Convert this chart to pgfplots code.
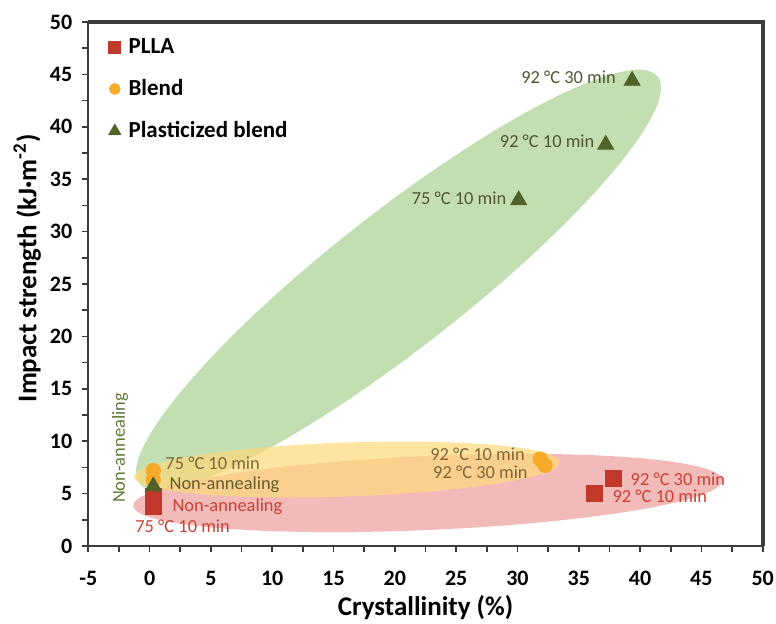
\documentclass[border=0pt]{standalone}
\usepackage{fontspec}
\setmainfont{Carlito}
\usepackage{pgfplots}
\pgfplotsset{compat=1.18}
\definecolor{axisgray}{RGB}{60,60,60}
\definecolor{pllared}{RGB}{192,57,43}
\definecolor{blendor}{RGB}{245,170,40}
\definecolor{plastgr}{RGB}{79,98,40}
\definecolor{ellgreen}{RGB}{172,211,148}
\definecolor{ellorange}{RGB}{252,217,124}
\definecolor{ellred}{RGB}{239,159,159}
\definecolor{lblgreen}{RGB}{80,86,48}
\definecolor{lblbrown}{RGB}{128,104,52}
\definecolor{lblred}{RGB}{200,65,52}
\definecolor{lblvert}{RGB}{95,120,55}
\definecolor{lblmix}{RGB}{105,92,44}
\newcommand{\annfont}{\fontsize{9.2}{11}\selectfont}
\begin{document}
\begin{tikzpicture}
\useasboundingbox (-44.15pt,-38.5pt) rectangle (343.85pt,273pt);
\begin{axis}[
  at={(0,0)}, anchor=south west,
  scale only axis, width=337.2pt, height=262pt,
  xmin=-5, xmax=50, ymin=0, ymax=50,
  axis lines=box,
  clip=false,
  xtick={-5,0,...,50}, ytick={0,5,...,50},
  minor x tick num=1, minor y tick num=1,
  xtick pos=bottom, ytick pos=left,
  tick align=outside,
  major tick length=3pt, minor tick length=3pt,
  axis line style={axisgray, line width=1pt},
  every tick/.style={axisgray, line width=0.8pt},
  tick label style={font=\fontsize{11}{13}\selectfont\bfseries},
  xticklabel style={yshift=-6pt},
  yticklabel style={xshift=-1.5pt},
  /pgf/number format/assume math mode=true,
  xlabel={Crystallinity (\%)},
  ylabel={Impact strength (kJ·m\textsuperscript{-2})},
  xlabel style={font=\fontsize{13.5}{16}\selectfont\bfseries, at={(axis description cs:0.5,0)}, anchor=center, yshift=-31pt},
  ylabel style={font=\fontsize{13.5}{16}\selectfont\bfseries, at={(axis description cs:0,0.53)}, anchor=center, yshift=30.5pt},
  legend style={at={(0.0255,0.977)}, anchor=north west, draw=none, fill=none, inner sep=0pt, row sep=7.5pt, font=\fontsize{11.5}{13}\selectfont\bfseries},
  legend cell align=left,
  legend image code/.code={\draw[mark repeat=2,mark phase=2,#1,mark options={scale=0.75}] plot coordinates {(0cm,0cm)(0.15cm,0cm)(0.3cm,0cm)}; \path (0pt,0pt) (8.95pt,0pt);},
]
% ellipses
\fill[ellgreen, opacity=0.72, rotate around={38.1:(axis cs:20.3,25.4)}] (axis cs:20.3,25.4) ellipse [x radius=164.7pt, y radius=33.8pt];
\fill[ellred, opacity=0.72, rotate around={2.5:(axis cs:22.7,5.06)}] (axis cs:22.7,5.06) ellipse [x radius=147.5pt, y radius=18.5pt];
\fill[ellorange, opacity=0.72, rotate around={2:(axis cs:16.1,7.3)}] (axis cs:16.1,7.3) ellipse [x radius=106.5pt, y radius=13.5pt];

\addplot[only marks, mark=square*, mark size=4pt, draw=pllared, fill=pllared] coordinates {(0.3,4.7) (0.3,3.8) (36.25,5.03) (37.8,6.46)};
\addlegendentry{PLLA}
\addplot[only marks, mark=*, mark size=3.6pt, draw=blendor, fill=blendor] coordinates {(0.3,6.3) (0.3,7.2) (31.85,8.3) (32.25,7.7)};
\addlegendentry{Blend}
\addplot[only marks, mark=triangle*, mark size=4.6pt, draw=plastgr, fill=plastgr] coordinates {(0.3,5.7) (30.1,33.0) (37.2,38.3) (39.35,44.4)};
\addlegendentry{Plasticized blend}

% labels plasticized
\node[lblgreen, anchor=east, inner sep=0pt, font=\annfont, xshift=-8pt, yshift=1.5pt] at (axis cs:39.35,44.4) {92 °C 30 min};
\node[lblgreen, anchor=east, inner sep=0pt, font=\annfont, xshift=-5.5pt, yshift=1.5pt] at (axis cs:37.2,38.3) {92 °C 10 min};
\node[lblgreen, anchor=east, inner sep=0pt, font=\annfont, xshift=-6pt, yshift=1pt] at (axis cs:30.1,33.0) {75 °C 10 min};
% labels blend
\node[lblbrown, anchor=east, inner sep=0pt, font=\annfont, xshift=-7.5pt, yshift=2.5pt] at (axis cs:31.85,8.3) {92 °C 10 min};
\node[lblbrown, anchor=east, inner sep=0pt, font=\annfont, xshift=-8.5pt, yshift=-3.5pt] at (axis cs:32.25,7.7) {92 °C 30 min};
% labels PLLA
\node[lblred, anchor=west, inner sep=0pt, font=\annfont, xshift=8.6pt, yshift=-0.3pt] at (axis cs:37.8,6.46) {92 °C 30 min};
\node[lblred, anchor=west, inner sep=0pt, font=\annfont, xshift=9pt, yshift=-1.3pt] at (axis cs:36.25,5.03) {92 °C 10 min};
% left cluster
\node[lblbrown, anchor=west, inner sep=0pt, font=\annfont] at (axis cs:1.26,7.92) {75 °C 10 min};
\node[lblmix, anchor=west, inner sep=0pt, font=\annfont] at (axis cs:1.6,5.82) {Non-annealing};
\node[lblred, anchor=west, inner sep=0pt, font=\annfont] at (axis cs:1.84,3.72) {Non-annealing};
\node[lblred, anchor=west, inner sep=0pt, font=\annfont] at (axis cs:-1.19,1.91) {75 °C 10 min};
\node[lblvert, anchor=center, inner sep=0pt, font=\annfont, rotate=90] at (axis cs:-2.41,9.35) {Non-annealing};
\end{axis}
% frame (top and right)
\draw[axisgray, line width=2pt] (0pt,262pt) -- (337.2pt,262pt) -- (337.2pt,0pt);
\end{tikzpicture}
\end{document}
